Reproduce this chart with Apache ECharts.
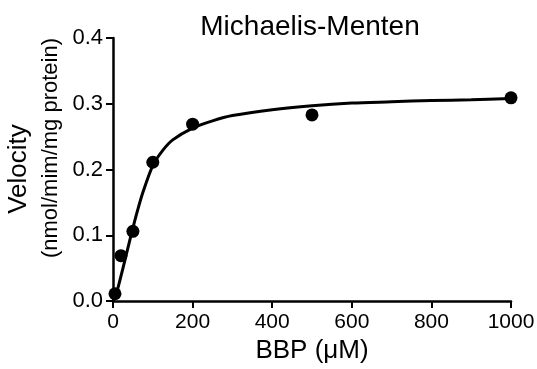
<!DOCTYPE html>
<html>
<head>
<meta charset="utf-8">
<script src="https://cdn.jsdelivr.net/npm/echarts@6/dist/echarts.min.js"></script>
<style>html,body{margin:0;padding:0;background:#fff;}#c{width:537px;height:369px;}</style>
</head>
<body>
<div id="c"></div>
<script>
// Measured data points
const concentrations = [5, 20, 50, 100, 200, 500, 1000];
const velocities = [0.011, 0.069, 0.106, 0.211, 0.269, 0.283, 0.309];
// Fitted curve
const fitX = [0, 10, 20, 30, 40, 50, 60, 75, 100, 125, 150, 200, 250, 300, 400, 500, 600, 700, 800, 900, 1000];
const fitY = [0, 0.015, 0.038, 0.062, 0.087, 0.111, 0.134, 0.165, 0.206, 0.229, 0.245, 0.263, 0.274, 0.282, 0.291, 0.297, 0.301, 0.303, 0.305, 0.306, 0.308];
const xTicks = [0, 200, 400, 600, 800, 1000];
const yTicks = ['0.0', '0.1', '0.2', '0.3', '0.4'];
const yTitleLines = ['Velocity', '(nmol/mim/mg protein)'];

const font = 'Liberation Sans, Arial, Helvetica, sans-serif';
const chart = echarts.init(document.getElementById('c'), null, {renderer: 'canvas'});
chart.setOption({
  animation: false,
  backgroundColor: '#fff',
  title: {
    text: 'Michaelis-Menten',
    left: 305, top: 8, textAlign: 'center',
    textStyle: {fontFamily: font, fontSize: 28, fontWeight: 'normal', color: '#000'}
  },
  grid: {left: 113, right: 26, top: 38, bottom: 68, containLabel: false, outerBoundsMode: 'none'},
  xAxis: {
    type: 'value', min: 0, max: 1000, interval: 200,
    name: 'BBP (μM)', nameLocation: 'middle', nameGap: 32,
    nameTextStyle: {fontFamily: font, fontSize: 26, color: '#000'},
    axisLine: {show: true, onZero: false, lineStyle: {color: '#000', width: 2.5}},
    axisTick: {show: true, inside: false, length: 7, lineStyle: {color: '#000', width: 2}},
    axisLabel: {margin: 11, fontFamily: font, fontSize: 21, color: '#000',
      formatter: v => xTicks.includes(v) ? String(v) : ''},
    splitLine: {show: false}
  },
  yAxis: {
    type: 'value', min: 0, max: 0.4, interval: 0.1,
    axisLine: {show: true, onZero: false, lineStyle: {color: '#000', width: 2.5}},
    axisTick: {show: true, inside: false, length: 7, lineStyle: {color: '#000', width: 2}},
    axisLabel: {margin: 10, fontFamily: font, fontSize: 22, color: '#000',
      formatter: v => yTicks[Math.round(v * 10)]},
    splitLine: {show: false}
  },
  graphic: [
    {type: 'text', x: 19, y: 169, rotation: Math.PI / 2,
      style: {text: yTitleLines[0], font: '26px ' + font, fill: '#000', align: 'center', verticalAlign: 'middle'}},
    {type: 'text', x: 51, y: 148, rotation: Math.PI / 2,
      style: {text: yTitleLines[1], font: '22px ' + font, fill: '#000', align: 'center', verticalAlign: 'middle'}}
  ],
  series: [
    {
      type: 'line', data: fitX.map((x, i) => [x, fitY[i]]),
      smooth: 0.3, showSymbol: false, symbol: 'none',
      lineStyle: {color: '#000', width: 3}, clip: false, z: 3
    },
    {
      type: 'scatter', data: concentrations.map((x, i) => [x, velocities[i]]),
      symbol: 'circle', symbolSize: 13,
      itemStyle: {color: '#000', opacity: 1}, clip: false, z: 4
    }
  ]
});
</script>
</body>
</html>
